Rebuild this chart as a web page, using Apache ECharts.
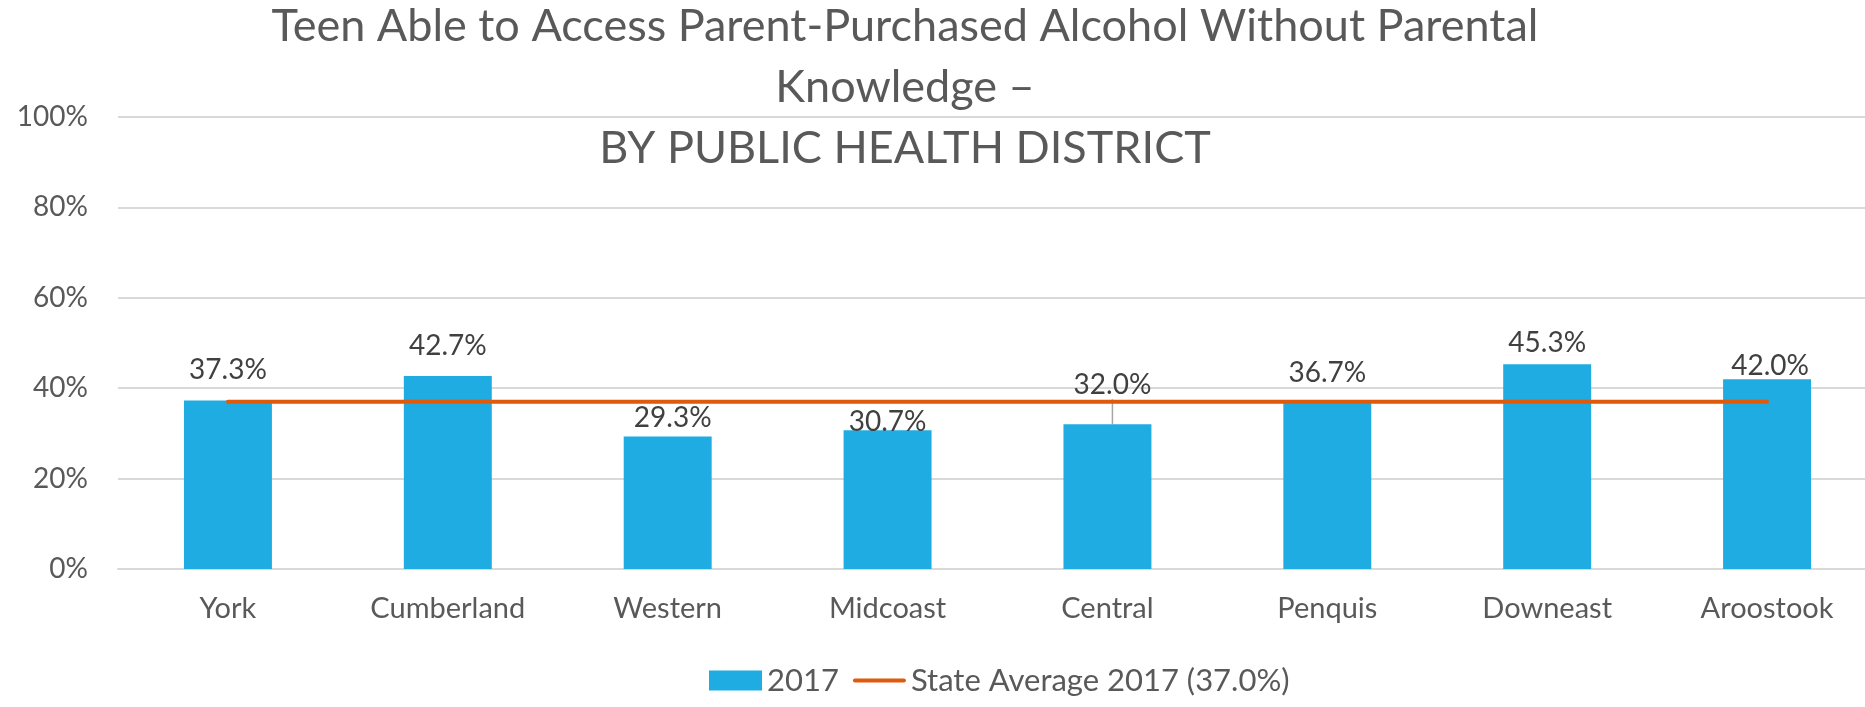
<!DOCTYPE html>
<html>
<head>
<meta charset="utf-8">
<script src="https://cdn.jsdelivr.net/npm/echarts@6/dist/echarts.min.js"></script>
<style>
html,body{margin:0;padding:0;background:#fff;}
#chart{width:1865px;height:707px;}
</style>
</head>
<body>
<div id="chart"></div>
<script>
// ---- data ----
const categories = ['York', 'Cumberland', 'Western', 'Midcoast', 'Central', 'Penquis', 'Downeast', 'Aroostook'];
const values2017 = [37.3, 42.7, 29.3, 30.7, 32.0, 36.7, 45.3, 42.0];
const stateAverage = [37.0, 37.0, 37.0, 37.0, 37.0, 37.0, 37.0, 37.0];
const yTicks = [0, 20, 40, 60, 80, 100];
const seriesNames = ['2017', 'State Average 2017 (37.0%)'];
const titleText = 'Teen Able to Access Parent-Purchased Alcohol Without Parental\nKnowledge –\nBY PUBLIC HEALTH DISTRICT';

// ---- label placement tweaks (layout only) ----
const labelDx = [0, 0, 5, 0, 5, 0, 0, 3];
const labelDy = [0, 0, 11, 22, -9, 0, 9, 17];
const leaderIndex = 4;

const FONT = 'Lato, "Open Sans", sans-serif';
const chart = echarts.init(document.getElementById('chart'), null, {renderer: 'canvas'});
chart.setOption({
  animation: false,
  backgroundColor: '#ffffff',
  title: {
    text: titleText,
    left: 905,
    top: -4,
    padding: 0,
    textAlign: 'center',
    textStyle: {fontFamily: FONT, fontSize: 45, fontWeight: 'normal', color: '#595959', lineHeight: 61}
  },
  legend: {
    data: [
      {name: seriesNames[0], icon: 'rect'},
      {name: seriesNames[1], icon: 'path://M2,0 L51,0 A2,2 0 0 1 51,4 L2,4 A2,2 0 0 1 2,0 Z'}
    ],
    left: 709,
    top: 665,
    padding: 0,
    itemWidth: 53,
    itemHeight: 20,
    itemGap: 14,
    textStyle: {fontFamily: FONT, fontSize: 31, color: '#595959'}
  },
  grid: {left: 118, width: 1759, top: 117, bottom: 138, containLabel: false, outerBoundsMode: 'none'},
  xAxis: {
    type: 'category',
    data: categories,
    axisTick: {show: false},
    axisLine: {show: true, lineStyle: {color: '#D9D9D9', width: 2}},
    axisLabel: {fontFamily: FONT, fontSize: 29, color: '#595959', margin: 25}
  },
  yAxis: {
    type: 'value',
    min: yTicks[0],
    max: yTicks[yTicks.length - 1],
    interval: yTicks[1] - yTicks[0],
    axisLine: {show: false},
    axisTick: {show: false},
    splitLine: {lineStyle: {color: '#D9D9D9', width: 2}},
    axisLabel: {fontFamily: FONT, fontSize: 28, color: '#595959', margin: 30, formatter: '{value}%'}
  },
  series: [
    {
      name: seriesNames[0],
      type: 'bar',
      data: values2017.map((v, i) => ({value: v, labelLine: {show: i === leaderIndex}})),
      barCategoryGap: '60%',
      itemStyle: {color: '#1EACE2'},
      label: {
        show: true,
        position: 'top',
        distance: 16,
        fontFamily: FONT,
        fontSize: 28,
        color: '#404040',
        formatter: p => p.value.toFixed(1) + '%'
      },
      labelLine: {show: false, lineStyle: {color: '#A6A6A6', width: 1.5}},
      labelLayout: p => ({dx: labelDx[p.dataIndex], dy: labelDy[p.dataIndex]}),
      z: 2
    },
    {
      name: seriesNames[1],
      type: 'line',
      data: stateAverage,
      symbol: 'none',
      lineStyle: {color: '#DF5A0B', width: 4, cap: 'round'},
      itemStyle: {color: '#DF5A0B'},
      z: 3
    }
  ]
});
</script>
</body>
</html>
